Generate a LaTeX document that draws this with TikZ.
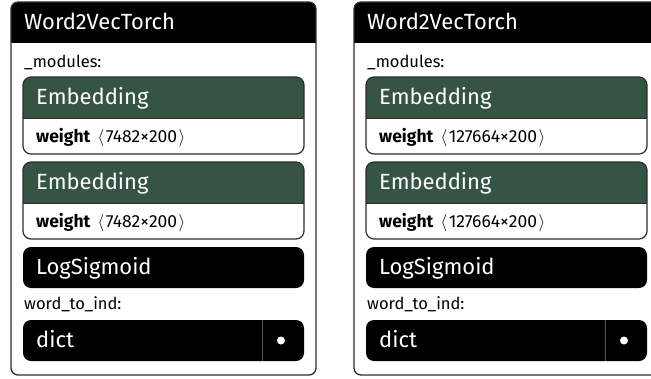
\documentclass[tikz,border=0pt]{standalone}
\usepackage{fontspec}
\setmainfont{Fira Sans}
\definecolor{embgreen}{RGB}{53,84,67}
\definecolor{edgegray}{RGB}{45,45,45}
\definecolor{splitgray}{RGB}{85,85,85}
\newcommand{\shapebr}[1]{\hspace{7pt}{\fontsize{19}{19}\selectfont$\langle$}\hspace{1.5pt}#1\hspace{1.5pt}{\fontsize{19}{19}\selectfont$\rangle$}}
\tikzset{
  panelline/.style={draw=edgegray, line width=1.3pt},
  boxline/.style={draw=edgegray, line width=1.2pt},
  titletext/.style={anchor=base west, inner sep=0pt, text=white, font=\fontsize{22}{22}\selectfont},
  fieldtext/.style={anchor=base west, inner sep=0pt, font=\fontsize{16.5}{16.5}\selectfont},
  weighttext/.style={fieldtext, font=\fontsize{17.5}{17.5}\selectfont},
}
\begin{document}
\begin{tikzpicture}[x=1pt,y=-1pt]
\useasboundingbox (0,0) rectangle (651,378);
\clip (0,0) rectangle (651,378);
% one panel per model, second one runs off the right edge
\foreach \dx/\p/\rows in {0/l/7482, 343/r/127664} {
  \begin{scope}[shift={(\dx,0)}]
    % outer frame with black title bar
    \begin{scope}
      \clip[rounded corners=7] (11,2) rectangle (316,375);
      \fill[white] (11,2) rectangle (316,375);
      \fill[black] (11,2) rectangle (316,43);
    \end{scope}
    \draw[panelline, rounded corners=7] (11,2) rectangle (316,375);
    \node[titletext] (\p-title) at (24,29) {Word2VecTorch};
    \node[fieldtext] (\p-modules) at (24,67) {\_modules:};
    % the two embedding tables
    \foreach \ty/\k in {77/1, 162/2} {
      \begin{scope}
        \clip[rounded corners=8] (23,\ty) rectangle (304,\ty+77);
        \fill[embgreen] (23,\ty) rectangle (304,\ty+41);
        \fill[white] (23,\ty+41) rectangle (304,\ty+77);
      \end{scope}
      \draw[edgegray, line width=1pt] (23,\ty+41) -- (304,\ty+41);
      \draw[boxline, rounded corners=8] (23,\ty) rectangle (304,\ty+77);
      \node[titletext] (\p-emb\k) at (36,\ty+27) {Embedding};
      \node[weighttext] (\p-weight\k) at (36,\ty+65)
        {\textbf{weight}\shapebr{\rows×200}};
    }
    % activation
    \fill[black, rounded corners=8] (23,247) rectangle (304,288);
    \node[titletext] (\p-logsig) at (36,274) {LogSigmoid};
    \node[fieldtext] (\p-wordind) at (24,309) {word\_to\_ind:};
    % dict entry with its pointer cell
    \fill[black, rounded corners=8] (23,320) rectangle (304,361);
    \draw[splitgray, line width=0.8pt] (262,320) -- (262,361);
    \node[titletext] (\p-dict) at (36,347) {dict};
    \fill[white] (281,340.5) circle (4);
  \end{scope}
}
\end{tikzpicture}
\end{document}
